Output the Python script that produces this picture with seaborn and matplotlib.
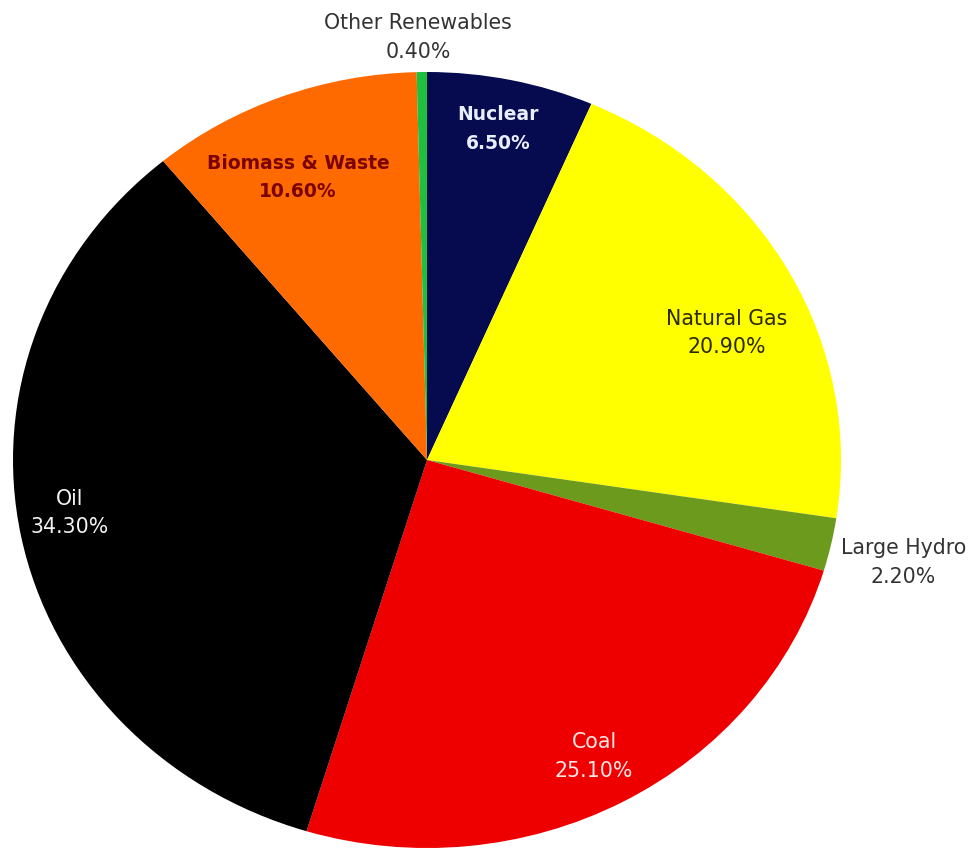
import numpy as np
import matplotlib
matplotlib.use("Agg")
import matplotlib.pyplot as plt
import seaborn as sns

# Energy mix shares (percent), clockwise from 12 o'clock
sources = ["Nuclear", "Natural Gas", "Large Hydro", "Coal", "Oil",
           "Biomass & Waste", "Other Renewables"]
shares = [6.5, 20.9, 2.2, 25.1, 34.3, 10.6, 0.4]

colors = ["#060a4e", "#ffff00", "#6b9a1c", "#ee0000", "#000000",
          "#ff6a00", "#1fbf3f"]
label_colors = ["#e8eeff", "#2a2a00", "#333333", "#ffe6e6", "#f2f2f2",
                "#7a0000", "#333333"]
label_weights = ["bold", "normal", "normal", "normal", "normal", "bold", "normal"]
# label placement: radius (in pie radii) and clockwise nudge from slice middle (deg)
label_radius = [0.871, 0.795, 1.181, 0.865, 0.873, 0.792, 1.090]
label_nudge = [-0.35, 4.67, 0.32, 0.47, 2.34, -2.65, -0.42]

sns.set_theme(style="white")
plt.rcParams["font.family"] = ["DejaVu Sans"]

fig = plt.figure(figsize=(9.74, 8.5), dpi=100)
ax = fig.add_axes([0, 0, 1, 1])

wedges, _ = ax.pie(shares, colors=colors, startangle=90, counterclock=False,
                   wedgeprops=dict(linewidth=0))

# slightly wider than tall, as in the printed figure
ax.set_aspect("auto")
ax.set_xlim(-427 / 414, (974 - 427) / 414)
ax.set_ylim(-390 / 388, 460 / 388)
ax.axis("off")

for w, name, val, c, fw, r, nudge in zip(wedges, sources, shares, label_colors,
                                         label_weights, label_radius, label_nudge):
    mid = np.deg2rad((w.theta1 + w.theta2) / 2 - nudge)
    x, y = r * np.cos(mid), r * np.sin(mid)
    bold = fw == "bold"
    ax.text(x, y, f"{name}\n{val:.2f}%", ha="center", va="center",
            color=c, fontsize=13.5 if bold else 14.8, fontweight=fw,
            linespacing=1.66 if bold else 1.56)

fig.savefig("out.png", dpi=100)
